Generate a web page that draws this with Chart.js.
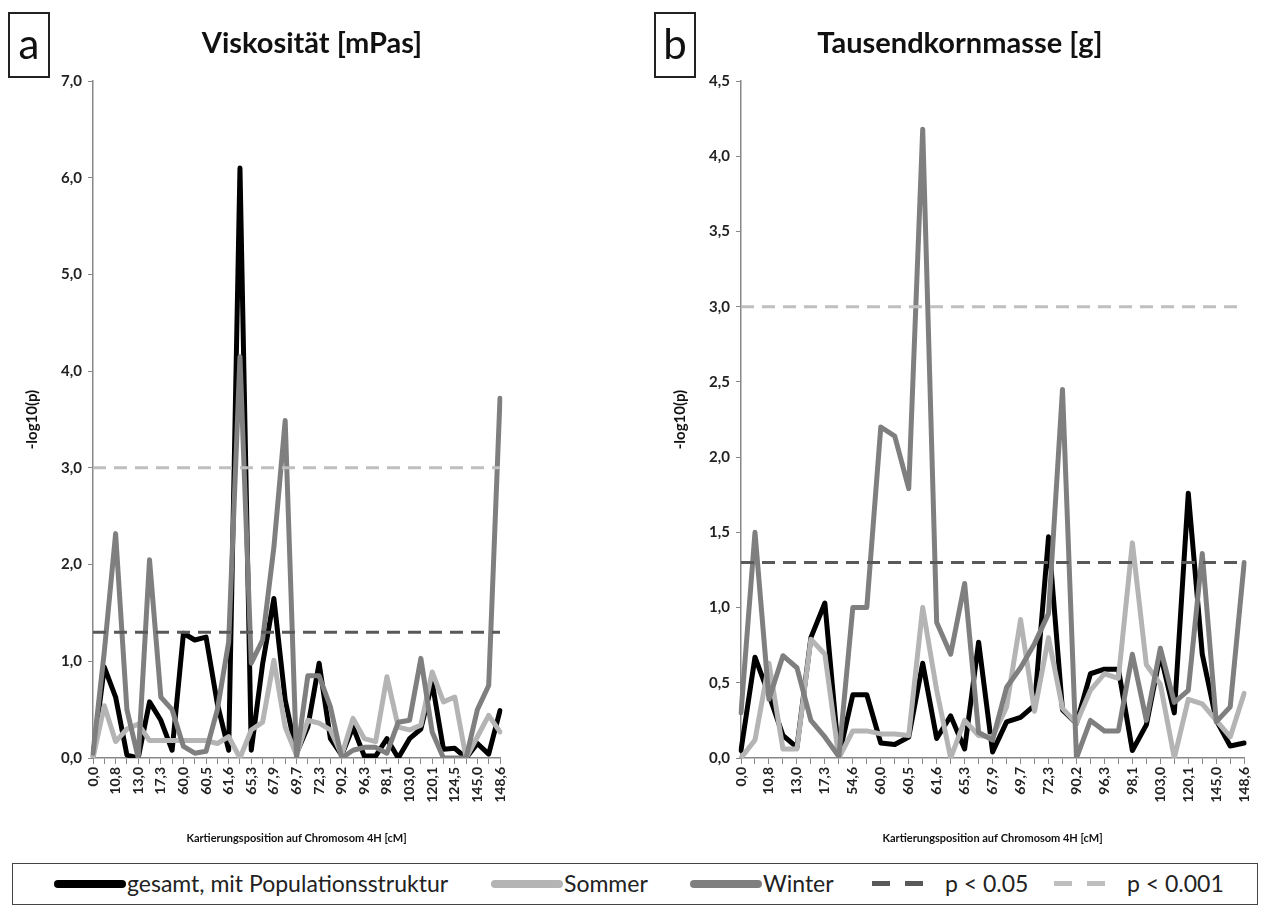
<!DOCTYPE html>
<html>
<head>
<meta charset="utf-8">
<script src="https://cdn.jsdelivr.net/npm/chart.js@4.4.1/dist/chart.umd.min.js"></script>
<style>
  body { margin: 0; background: #fff; font-family: Lato, "Open Sans", sans-serif; }
  #page { position: relative; width: 1264px; height: 918px; overflow: hidden; }
  canvas { position: absolute; top: 0; }
  .title { position: absolute; top: 24px; font-weight: bold; font-size: 29px; color: #111; transform: translateX(-50%); white-space: nowrap; }
  .letter { position: absolute; top: 12px; width: 38px; height: 62px; border: 2px solid #222; font-size: 42px; line-height: 58px; text-align: center; color: #111; }
  #legend { position: absolute; left: 12px; top: 863px; width: 1244px; height: 40px; border: 1.5px solid #444; }
  .sw { position: absolute; top: 16px; height: 8px; border-radius: 4px; }
  .dash { position: absolute; top: 17px; height: 5px; width: 18px; }
  .lt { position: absolute; top: 5px; font-size: 23px; color: #222; white-space: nowrap; }
</style>
</head>
<body>
<div id="page">
  <canvas id="chartA" width="520" height="860" style="left:0"></canvas>
  <canvas id="chartB" width="624" height="860" style="left:640px"></canvas>
  <div class="letter" style="left:8px">a</div>
  <div class="letter" style="left:654px">b</div>
  <div class="title" style="left:312px">Viskosität [mPas]</div>
  <div class="title" style="left:960px">Tausendkornmasse [g]</div>
  <div id="legend">
    <div class="sw" style="left:41px;width:72px;background:#000"></div>
    <div class="lt" style="left:114px">gesamt, mit Populationsstruktur</div>
    <div class="sw" style="left:478px;width:72px;background:#b4b4b4"></div>
    <div class="lt" style="left:551px">Sommer</div>
    <div class="sw" style="left:677px;width:72px;background:#7f7f7f"></div>
    <div class="lt" style="left:750px">Winter</div>
    <div class="dash" style="left:859px;background:#595959"></div>
    <div class="dash" style="left:892px;background:#595959"></div>
    <div class="lt" style="left:932px">p &lt; 0.05</div>
    <div class="dash" style="left:1041px;background:#bfbfbf"></div>
    <div class="dash" style="left:1074px;background:#bfbfbf"></div>
    <div class="lt" style="left:1114px">p &lt; 0.001</div>
  </div>
</div>
<script>
// Marker positions on chromosome 4H [cM]; only every second one is labelled
const categoriesA = ['0,0', '', '10,8', '', '13,0', '', '17,3', '', '60,0', '', '60,5', '', '61,6', '',
    '65,3', '', '67,9', '', '69,7', '', '72,3', '', '90,2', '', '96,3', '', '98,1', '', '103,0', '',
    '120,1', '', '124,5', '', '145,0', '', '148,6'];
const categoriesB = ['0,0', '', '10,8', '', '13,0', '', '17,3', '', '54,6', '', '60,0', '', '60,5', '',
    '61,6', '', '65,3', '', '67,9', '', '69,7', '', '72,3', '', '90,2', '', '96,3', '', '98,1', '',
    '103,0', '', '120,1', '', '145,0', '', '148,6'];

// a: Viskosität, -log10(p)
const gesamtA = [0.02, 0.94, 0.63, 0.03, 0.0, 0.58, 0.39, 0.08, 1.29, 1.22, 1.25, 0.56, 0.08, 6.1, 0.08,
    0.97, 1.65, 0.6, 0.05, 0.32, 0.98, 0.2, 0.03, 0.32, 0.02, 0.02, 0.2, 0.0, 0.2, 0.3, 0.78, 0.09, 0.1,
    0.0, 0.15, 0.04, 0.49];
const sommerA = [0.0, 0.54, 0.17, 0.3, 0.35, 0.18, 0.18, 0.18, 0.18, 0.18, 0.18, 0.15, 0.22, 0.0, 0.29,
    0.37, 1.01, 0.32, 0.03, 0.39, 0.36, 0.29, 0.03, 0.41, 0.2, 0.17, 0.84, 0.32, 0.29, 0.34, 0.89, 0.58,
    0.63, 0.0, 0.22, 0.44, 0.27];
const winterA = [0.05, 1.1, 2.32, 0.5, 0.0, 2.05, 0.63, 0.5, 0.12, 0.05, 0.07, 0.5, 1.2, 4.15, 0.98,
    1.22, 2.18, 3.49, 0.0, 0.85, 0.85, 0.53, 0.0, 0.08, 0.11, 0.11, 0.05, 0.37, 0.39, 1.03, 0.27, 0.0,
    0.0, 0.0, 0.5, 0.75, 3.72];

// b: Tausendkornmasse, -log10(p)
const gesamtB = [0.05, 0.67, 0.42, 0.15, 0.07, 0.8, 1.03, 0.01, 0.42, 0.42, 0.1, 0.09, 0.14, 0.63, 0.13,
    0.28, 0.06, 0.77, 0.04, 0.24, 0.27, 0.35, 1.47, 0.32, 0.23, 0.56, 0.59, 0.59, 0.05, 0.22, 0.69, 0.3,
    1.76, 0.69, 0.25, 0.08, 0.1];
const sommerB = [0.0, 0.12, 0.63, 0.06, 0.06, 0.79, 0.69, 0.0, 0.18, 0.18, 0.16, 0.16, 0.15, 1.0, 0.45,
    0.0, 0.25, 0.15, 0.14, 0.34, 0.92, 0.31, 0.8, 0.33, 0.23, 0.45, 0.56, 0.53, 1.43, 0.62, 0.49, 0.0,
    0.39, 0.36, 0.25, 0.14, 0.43];
const winterB = [0.3, 1.5, 0.39, 0.68, 0.6, 0.25, 0.14, 0.01, 1.0, 1.0, 2.2, 2.14, 1.79, 4.18, 0.9, 0.69,
    1.16, 0.17, 0.12, 0.47, 0.6, 0.76, 0.96, 2.45, 0.0, 0.25, 0.18, 0.18, 0.69, 0.25, 0.73, 0.37, 0.45,
    1.36, 0.24, 0.34, 1.3];

// significance thresholds (-log10 of p)
const levelP05 = 1.3;
const levelP001 = 3.0;

const FONT = 'Lato, "Open Sans", sans-serif';
const comma = v => v.toFixed(1).replace('.', ',');

function makeChart(id, labels, gesamt, sommer, winter, yMax, yStep, yAxisWidth, yTitlePad, padRight) {
    const line = (label, data, color, order) => ({
        label, data, borderColor: color, backgroundColor: color, borderWidth: 5,
        pointRadius: 0, tension: 0, borderJoinStyle: 'round', borderCapStyle: 'round', order
    });
    const dashed = (label, level, color, order) => ({
        label, data: labels.map(() => level), borderColor: color, borderWidth: 3,
        borderDash: [13, 8], pointRadius: 0, order
    });
    return new Chart(document.getElementById(id), {
        type: 'line',
        data: {
            labels: labels,
            datasets: [
                line('gesamt, mit Populationsstruktur', gesamt, '#000000', 5),
                line('Sommer', sommer, '#b4b4b4', 4),
                line('Winter', winter, '#7f7f7f', 3),
                dashed('p < 0.05', levelP05, '#595959', 2),
                dashed('p < 0.001', levelP001, '#bfbfbf', 1)
            ]
        },
        options: {
            responsive: false,
            animation: false,
            layout: { padding: { top: 81, right: padRight, left: 0, bottom: 0 } },
            plugins: { legend: { display: false }, tooltip: { enabled: false } },
            scales: {
                x: {
                    offset: false,
                    afterFit: s => { s.height = 102; },
                    grid: { drawOnChartArea: false, drawTicks: true, tickLength: 6, color: '#888' },
                    border: { color: '#888', width: 1.5 },
                    ticks: {
                        autoSkip: false, minRotation: 90, maxRotation: 90, padding: 3,
                        color: '#222', font: { family: FONT, size: 14, weight: 'bold' }
                    },
                    title: {
                        display: true, text: 'Kartierungsposition auf Chromosom 4H [cM]',
                        color: '#111', font: { family: FONT, size: 11, weight: 'bold' },
                        padding: { top: 0, bottom: 15 }
                    }
                },
                y: {
                    min: 0, max: yMax,
                    afterFit: s => { s.width = yAxisWidth; },
                    grid: { drawOnChartArea: false, drawTicks: true, tickLength: 5, color: '#888' },
                    border: { color: '#888', width: 1.5 },
                    ticks: {
                        stepSize: yStep, padding: 6, color: '#222', callback: comma,
                        font: { family: FONT, size: 15, weight: 'bold' }
                    },
                    title: {
                        display: true, text: '-log10(p)', color: '#111',
                        font: { family: FONT, size: 15, weight: 'bold' },
                        padding: { top: yTitlePad, bottom: 0 }
                    }
                }
            }
        }
    });
}

makeChart('chartA', categoriesA, gesamtA, sommerA, winterA, 7, 1, 93, 23, 20);
makeChart('chartB', categoriesB, gesamtB, sommerB, winterB, 4.5, 0.5, 101, 31, 11);
</script>
</body>
</html>
